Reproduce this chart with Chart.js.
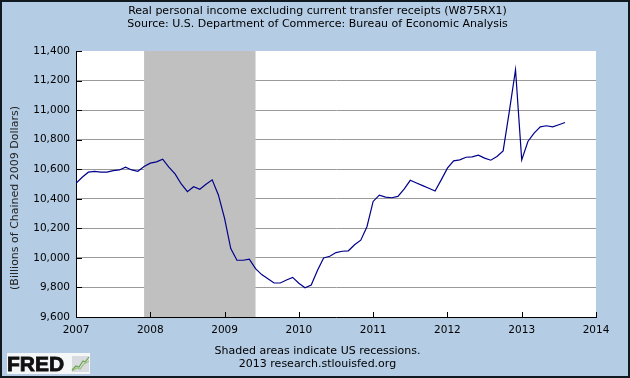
<!DOCTYPE html>
<html>
<head>
<meta charset="utf-8">
<script src="https://cdn.jsdelivr.net/npm/chart.js@4.4.1/dist/chart.umd.min.js"></script>
<style>
  html, body { margin: 0; padding: 0; background: #B4CCE4; }
  #wrap { width: 630px; height: 378px; position: relative; }
  canvas { display: block; }
</style>
</head>
<body>
<div id="wrap"><canvas id="c" width="630" height="378"></canvas></div>
<script>
// ---- data ----
const titleLines = [
  "Real personal income excluding current transfer receipts (W875RX1)",
  "Source: U.S. Department of Commerce: Bureau of Economic Analysis"
];
const footerLines = [
  "Shaded areas indicate US recessions.",
  "2013 research.stlouisfed.org"
];
const yAxisTitle = "(Billions of Chained 2009 Dollars)";
const startMonth = "2007-01";
const values = [
  10505, 10546, 10580, 10586, 10580, 10580, 10591, 10595, 10614, 10595, 10586, 10618,
  10641, 10650, 10668, 10614, 10568, 10500, 10448, 10482, 10464, 10498, 10528, 10426,
  10267, 10063, 9984, 9984, 9991, 9927, 9887, 9859, 9830, 9830, 9850, 9868,
  9828, 9798, 9816, 9915, 10000, 10011, 10036, 10045, 10048, 10089, 10120, 10211,
  10382, 10425, 10411, 10407, 10416, 10466, 10525, 10507, 10489, 10471, 10453, 10528,
  10607, 10657, 10663, 10681, 10684, 10695, 10675, 10661, 10686, 10724, 10991, 11273,
  10663, 10788, 10844, 10887, 10894, 10887, 10901, 10916
];
const recessions = [["2007-12", "2009-06"]];
const xTicks = [2007, 2008, 2009, 2010, 2011, 2012, 2013, 2014];
const yTicks = [9600, 9800, 10000, 10200, 10400, 10600, 10800, 11000, 11200, 11400];

// month strings -> categories
const sy = parseInt(startMonth.slice(0, 4)), sm = parseInt(startMonth.slice(5, 7)) - 1;
const months = values.map((_, i) => {
  const t = sy * 12 + sm + i;
  return Math.floor(t / 12) + "-" + String(t % 12 + 1).padStart(2, "0");
});
const toYear = s => parseInt(s.slice(0, 4)) + (parseInt(s.slice(5, 7)) - 1) / 12;
const points = months.map((m, i) => ({ x: toYear(m), y: values[i] }));

const FONT = "'DejaVu Sans', Verdana, sans-serif";

const framePlugin = {
  id: 'frame',
  beforeDraw(chart) {
    const { ctx, chartArea: a } = chart;
    ctx.save();
    ctx.fillStyle = '#B4CCE4';
    ctx.fillRect(0, 0, chart.width, chart.height);
    ctx.fillStyle = '#FFFFFF';
    ctx.fillRect(a.left, a.top, a.right - a.left, a.bottom - a.top);
    ctx.restore();
  },
  beforeDatasetsDraw(chart) {
    const { ctx, chartArea: a, scales: { x } } = chart;
    ctx.save();
    ctx.fillStyle = '#C0C0C0';
    recessions.forEach(([s, e]) => {
      const x0 = x.getPixelForValue(toYear(s));
      const x1 = x.getPixelForValue(toYear(e));
      ctx.fillRect(x0, a.top, x1 - x0, a.bottom - a.top);
    });
    ctx.restore();
  },
  afterDraw(chart) {
    const { ctx, chartArea: a, scales: { x, y } } = chart;
    ctx.save();
    // inward ticks
    ctx.strokeStyle = '#000';
    ctx.lineWidth = 1;
    ctx.beginPath();
    yTicks.forEach(v => {
      const py = Math.round(y.getPixelForValue(v)) + 0.5;
      ctx.moveTo(a.left, py); ctx.lineTo(a.left + 6, py);
    });
    xTicks.forEach(v => {
      const px = Math.round(x.getPixelForValue(v)) + 0.5;
      ctx.moveTo(px, a.bottom); ctx.lineTo(px, a.bottom - 5);
    });
    ctx.stroke();
    // y axis title
    ctx.fillStyle = '#222';
    ctx.font = "11px " + FONT;
    ctx.textAlign = 'center';
    ctx.textBaseline = 'middle';
    ctx.translate(15, 198);
    ctx.rotate(-Math.PI / 2);
    ctx.fillText(yAxisTitle, 0, 0);
    ctx.setTransform(1, 0, 0, 1, 0, 0);
    // FRED logo
    ctx.fillStyle = '#F4F6F8';
    ctx.fillRect(7, 353, 83, 21);
    ctx.fillStyle = '#111';
    ctx.font = "bold 21px 'Liberation Sans', Arial, sans-serif";
    ctx.textAlign = 'left';
    ctx.textBaseline = 'alphabetic';
    ctx.lineWidth = 0.8;
    ctx.strokeStyle = '#111';
    ctx.fillText("FRED", 7, 371);
    ctx.strokeText("FRED", 7, 371);
    ctx.fillStyle = '#D8DCE0';
    ctx.fillRect(72, 356, 17, 16);
    ctx.strokeStyle = '#6BA34A';
    ctx.lineWidth = 1.2;
    ctx.beginPath();
    ctx.moveTo(72, 370); ctx.lineTo(76, 366); ctx.lineTo(79, 367); ctx.lineTo(83, 361); ctx.lineTo(85, 362); ctx.lineTo(89, 357);
    ctx.stroke();
    ctx.strokeStyle = '#9BC07F';
    ctx.beginPath();
    ctx.moveTo(72, 371); ctx.lineTo(77, 368); ctx.lineTo(80, 369); ctx.lineTo(84, 364); ctx.lineTo(89, 361);
    ctx.stroke();
    // outer border
    ctx.strokeStyle = '#101820';
    ctx.lineWidth = 2;
    ctx.strokeRect(1, 1, chart.width - 2, chart.height - 2);
    ctx.restore();
  }
};

new Chart(document.getElementById('c'), {
  type: 'line',
  data: {
    datasets: [{
      data: points,
      borderColor: '#00008B',
      borderWidth: 1.2,
      pointRadius: 0,
      tension: 0,
      fill: false
    }]
  },
  options: {
    responsive: false,
    animation: false,
    layout: { padding: { left: 5, right: 0, top: 0, bottom: 0 } },
    plugins: {
      legend: { display: false },
      tooltip: { enabled: false },
      title: {
        display: true,
        text: titleLines,
        color: '#000',
        font: { family: FONT, size: 11, weight: 'normal', lineHeight: 1.25 },
        padding: { top: 4, bottom: 19.5 }
      },
      subtitle: {
        display: true,
        position: 'bottom',
        text: footerLines,
        color: '#000',
        font: { family: FONT, size: 11, weight: 'normal', lineHeight: 1.25 },
        padding: { top: 6, bottom: 6.5 }
      }
    },
    scales: {
      x: {
        type: 'linear',
        min: xTicks[0],
        max: xTicks[xTicks.length - 1],
        afterBuildTicks: s => { s.ticks = xTicks.map(v => ({ value: v })); },
        ticks: {
          padding: 7,
          maxRotation: 0,
          autoSkip: false,
          color: '#000',
          font: { family: FONT, size: 10.5 },
          callback: v => String(v)
        },
        grid: { display: false, drawTicks: false },
        border: { display: true, color: '#000', width: 1 },
        afterFit: s => { s.height = 21; }
      },
      y: {
        min: yTicks[0],
        max: yTicks[yTicks.length - 1],
        afterBuildTicks: s => { s.ticks = yTicks.map(v => ({ value: v })); },
        ticks: {
          padding: 6,
          color: '#000',
          font: { family: FONT, size: 10.5 },
          callback: v => v.toLocaleString('en-US')
        },
        grid: {
          drawTicks: false,
          color: c => (c.tick && (c.tick.value === yTicks[yTicks.length - 1] || c.tick.value === yTicks[0])) ? 'rgba(0,0,0,0)' : '#9A9A9A',
          lineWidth: 1
        },
        border: { display: true, color: '#000', width: 1 },
        afterFit: s => { s.width = 71; }
      },
      y2: {
        position: 'right',
        display: true,
        ticks: { display: false },
        grid: { display: false, drawTicks: false },
        border: { display: false },
        afterFit: s => { s.width = 34; }
      }
    }
  },
  plugins: [framePlugin]
});
</script>
</body>
</html>
